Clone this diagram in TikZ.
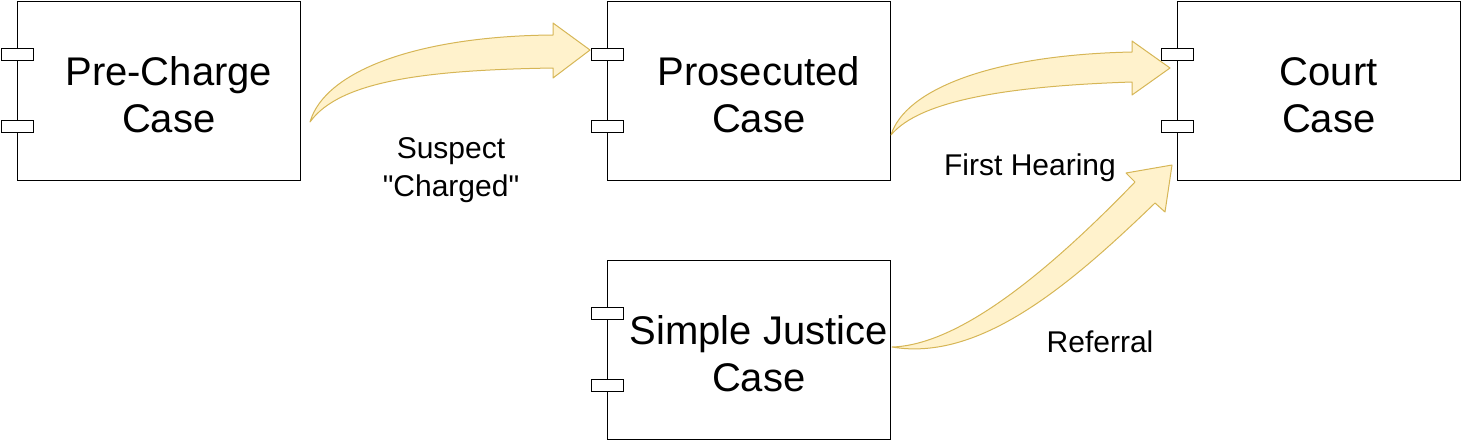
\documentclass[tikz,border=0pt]{standalone}
\usepackage{fontspec}
\setmainfont{Liberation Sans}
\newfontfamily\plainsans{Liberation Sans}
\usetikzlibrary{calc}
\definecolor{afill}{HTML}{FFF2CC}
\definecolor{astroke}{HTML}{D6B656}
\begin{document}
\begin{tikzpicture}[x=1pt,y=-1pt,
 casebox/.style={draw=black,line width=1pt,fill=white,minimum width=283.5pt,minimum height=179.5pt,inner sep=0pt,anchor=north west},
 port/.style={draw=black,line width=1pt,fill=white,minimum width=32pt,minimum height=12pt,inner sep=0pt,anchor=north west},
 casetext/.style={font=\plainsans\fontsize{40}{47}\selectfont,align=center,inner sep=0pt},
 lbl/.style={font=\plainsans\fontsize{30}{38}\selectfont,align=center,inner sep=0pt},
 bigarrow/.style={fill=afill,draw=astroke,line width=1pt,line join=round}]
\path[use as bounding box] (0,0) rectangle (1461,440);

% boxes
\node[casebox] (pre) at (16.5,0.5) {};
\node[casebox] (pros) at (606.5,0.5) {};
\node[casebox] (court) at (1176.5,0.5) {};
\node[casebox] (simple) at (606.5,259.5) {};

% ports
\node[port] (preA) at (0.5,48) {};
\node[port] (preB) at (0.5,120) {};
\node[port] (prosA) at (590.5,48) {};
\node[port] (prosB) at (590.5,120) {};
\node[port] (courtA) at (1160.5,48) {};
\node[port] (courtB) at (1160.5,120) {};
\node[port] (simpleA) at (590.5,307) {};
\node[port] (simpleB) at (590.5,379) {};

% texts
\node[casetext] (preT) at ($(pre.center)+(10,4)$) {Pre-Charge\\Case};
\node[casetext] (prosT) at ($(pros.center)+(10,4)$) {Prosecuted\\Case};
\node[casetext] (courtT) at ($(court.center)+(10,4)$) {Court\\Case};
\node[casetext] (simpleT) at ($(simple.center)+(10,4)$) {Simple Justice\\Case};

% arrows
\draw[bigarrow] (310,122) .. controls (325,70) and (420,36) .. (553,35)
  -- (553,23) -- (590,50) -- (553,78) -- (553,68)
  .. controls (430,70) and (340,80) .. (310,122) -- cycle;
\draw[bigarrow] (891,135) .. controls (905,90) and (990,55) .. (1132,52)
  -- (1132,41) -- (1170,68) -- (1132,95) -- (1132,82)
  .. controls (1010,86) and (920,100) .. (891,135) -- cycle;
\draw[bigarrow] (892,347) .. controls (960,345) and (1050,270) .. (1135,182)
  -- (1126,173) -- (1172,165) -- (1165,212) -- (1155,203)
  .. controls (1070,285) and (980,362) .. (892,347) -- cycle;

% labels
\node[lbl] (l1) at (451,170) {Suspect\\"Charged"};
\node[lbl] (l2) at (1030,168) {First Hearing};
\node[lbl] (l3) at (1100,342) {Referral};
\end{tikzpicture}
\end{document}
